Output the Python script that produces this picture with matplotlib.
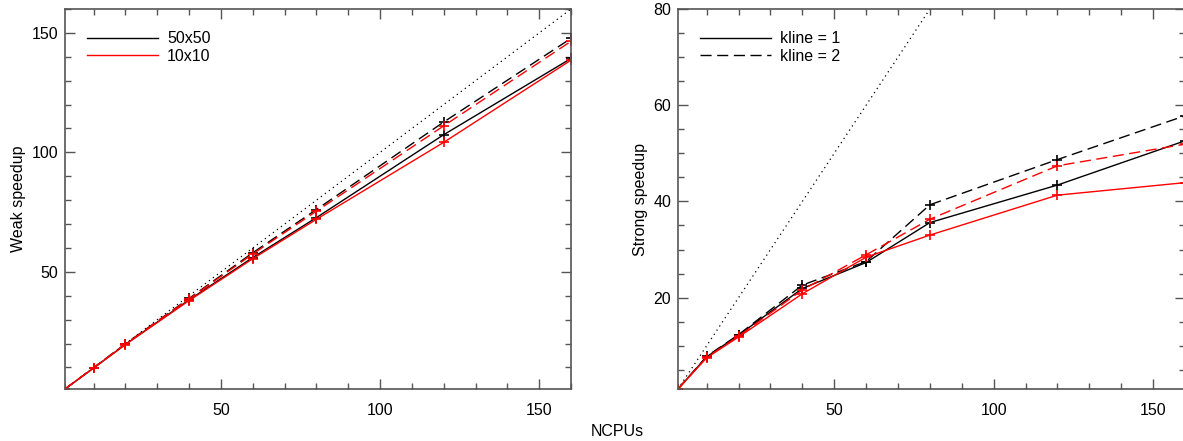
import matplotlib
matplotlib.use("Agg")
import matplotlib.pyplot as plt
from matplotlib.lines import Line2D
from matplotlib.ticker import MultipleLocator

plt.rcParams["font.family"] = ["Liberation Sans", "DejaVu Sans"]
plt.rcParams["font.size"] = 11.5

# number of CPUs
ncpus = [1, 10, 20, 40, 60, 80, 120, 160]

# weak scaling (left)
weak_50_k1 = [1, 9.8, 19.7, 38.3, 56.0, 72.7, 107.4, 139.3]
weak_50_k2 = [1, 9.9, 19.9, 38.9, 58.0, 76.1, 112.7, 147.7]
weak_10_k1 = [1, 9.8, 19.6, 38.0, 55.5, 72.0, 104.2, 138.6]
weak_10_k2 = [1, 9.9, 19.8, 38.7, 57.5, 75.4, 111.1, 146.5]

# strong scaling (right)
strong_50_k1 = [1, 7.7, 12.2, 21.9, 27.3, 35.6, 43.4, 52.6]
strong_50_k2 = [1, 7.8, 12.3, 22.6, 27.5, 39.3, 48.7, 57.8]
strong_10_k1 = [1, 7.5, 11.8, 20.8, 28.4, 33.0, 41.3, 43.9]
strong_10_k2 = [1, 7.6, 12.0, 21.6, 28.9, 36.3, 47.4, 51.9]

ideal = [1, 160]

DASH = (0, (8, 4))
DOT = (0, (1, 3))
FS = 11.5


def style_axes(ax, ymax, ymajor, yminor):
    ax.set_xlim(1, 160)
    ax.set_ylim(1, ymax)
    ax.xaxis.set_major_locator(MultipleLocator(50))
    ax.xaxis.set_minor_locator(MultipleLocator(10))
    ax.yaxis.set_major_locator(MultipleLocator(ymajor))
    ax.yaxis.set_minor_locator(MultipleLocator(yminor))
    ax.tick_params(which="both", direction="in", top=True, right=True,
                   color="#555555", labelsize=FS)
    ax.tick_params(axis="x", pad=10)
    ax.tick_params(axis="y", pad=5)
    ax.tick_params(which="major", length=7, width=1)
    ax.tick_params(which="minor", length=4, width=1)
    for s in ax.spines.values():
        s.set_color("#555555")
        s.set_linewidth(1.2)


def draw(ax, a1, a2, b1, b2):
    ax.plot(ideal, ideal, color="black", linestyle=DOT, lw=0.9)
    ax.plot(ncpus, a1, color="black", lw=1.0, marker="+", ms=7, mew=1.2)
    ax.plot(ncpus, a2, color="black", lw=1.0, linestyle=DASH, marker="+", ms=7, mew=1.2)
    ax.plot(ncpus, b1, color="red", lw=1.0, marker="+", ms=7, mew=1.2)
    ax.plot(ncpus, b2, color="red", lw=1.0, linestyle=DASH, marker="+", ms=7, mew=1.2)


def add_legend(ax, handles, labels):
    ax.legend(handles, labels, loc="upper left", frameon=False,
              handlelength=4.4, handletextpad=0.6, labelspacing=0.15,
              borderaxespad=1.0, fontsize=FS)


fig = plt.figure(figsize=(11.83, 4.41), dpi=100)
ax1 = fig.add_axes([65 / 1183, 1 - 389 / 441, 506 / 1183, 380 / 441])
ax2 = fig.add_axes([678 / 1183, 1 - 389 / 441, 507 / 1183, 380 / 441])

draw(ax1, weak_50_k1, weak_50_k2, weak_10_k1, weak_10_k2)
style_axes(ax1, 160, 50, 10)
ax1.set_ylabel("Weak speedup", labelpad=4)

draw(ax2, strong_50_k1, strong_50_k2, strong_10_k1, strong_10_k2)
style_axes(ax2, 80, 20, 5)
ax2.set_ylabel("Strong speedup", labelpad=4)

add_legend(ax1, [Line2D([], [], color="black", lw=1.0),
                 Line2D([], [], color="red", lw=1.0)], ["50x50", "10x10"])
add_legend(ax2, [Line2D([], [], color="black", lw=1.0),
                 Line2D([], [], color="black", lw=1.0, linestyle=DASH)],
           ["kline = 1", "kline = 2"])

fig.text(617 / 1183, 1 - 432 / 441, "NCPUs", ha="center", va="center", fontsize=FS)

fig.savefig("out.png", dpi=100)
